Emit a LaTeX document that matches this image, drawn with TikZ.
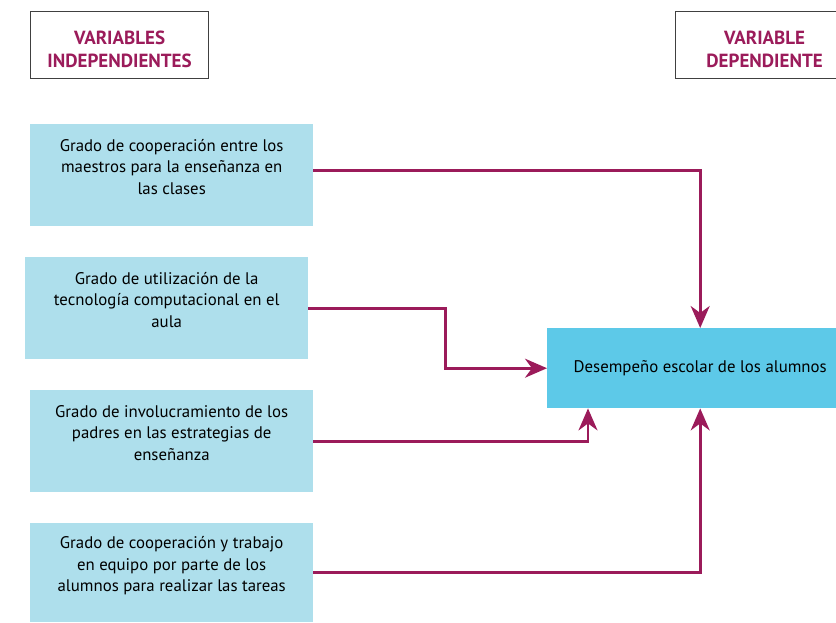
\documentclass[tikz,border=0pt]{standalone}
\usepackage{fontspec}
\setmainfont{PT Sans}
\usetikzlibrary{
    positioning,   % Relative positioning
    arrows.meta,   % Modern arrow tips
    calc           % Coordinate calculations
}
\definecolor{vino}{HTML}{9B1B5A}
\definecolor{celeste}{HTML}{AEDFEC}
\definecolor{cian}{HTML}{5DC9E8}

\begin{document}
\begin{tikzpicture}[x=1pt,y=-1pt,
    header/.style={draw=black!75, line width=1.2pt, fill=white, text=vino,
        font=\bfseries\fontsize{19}{23}\selectfont, align=center, text height=46pt,
        anchor=north west, minimum width=178pt, minimum height=67pt},
    varbox/.style={fill=celeste, anchor=north west, minimum width=283pt,
        minimum height=102pt, align=center, text depth=17pt,
        font=\fontsize{16.8}{21.5}\selectfont},
    link/.style={draw=vino, line width=2.6pt,
        -{Stealth[length=22pt,width=19pt,inset=7pt]}}
]
    \useasboundingbox (0,0) rectangle (836,622);
    % encabezados
    \node[header] (indep) at (30,11) {VARIABLES\\INDEPENDIENTES};
    \node[header] (dep) at (675,11) {VARIABLE\\DEPENDIENTE};
    % variables independientes
    \node[varbox] (coop) at (30,124) {Grado de cooperación entre los\\maestros para la enseñanza en\\las clases};
    \node[varbox] (tecno) at (25,257) {Grado de utilización de la\\tecnología computacional en el\\aula};
    \node[varbox] (padres) at (30,390) {Grado de involucramiento de los\\padres en las estrategias de\\enseñanza};
    \node[varbox, minimum height=99pt] (equipo) at (30,523) {Grado de cooperación y trabajo\\en equipo por parte de los\\alumnos para realizar las tareas};
    % variable dependiente
    \node[fill=cian, anchor=north west, minimum width=306pt, minimum height=80pt,
        font=\fontsize{16.8}{21.5}\selectfont] (desemp) at (547,328) {Desempeño escolar de los alumnos};
    % conexiones
    \draw[link] ([yshift=5pt]coop.east) -| (desemp.north);
    \draw[link] (tecno.east) -- ++(137,0) |- (desemp.west);
    \draw[link] (padres.east) -| ([xshift=41pt]desemp.south west);
    \draw[link] (equipo.east) -| (desemp.south);
\end{tikzpicture}
\end{document}
